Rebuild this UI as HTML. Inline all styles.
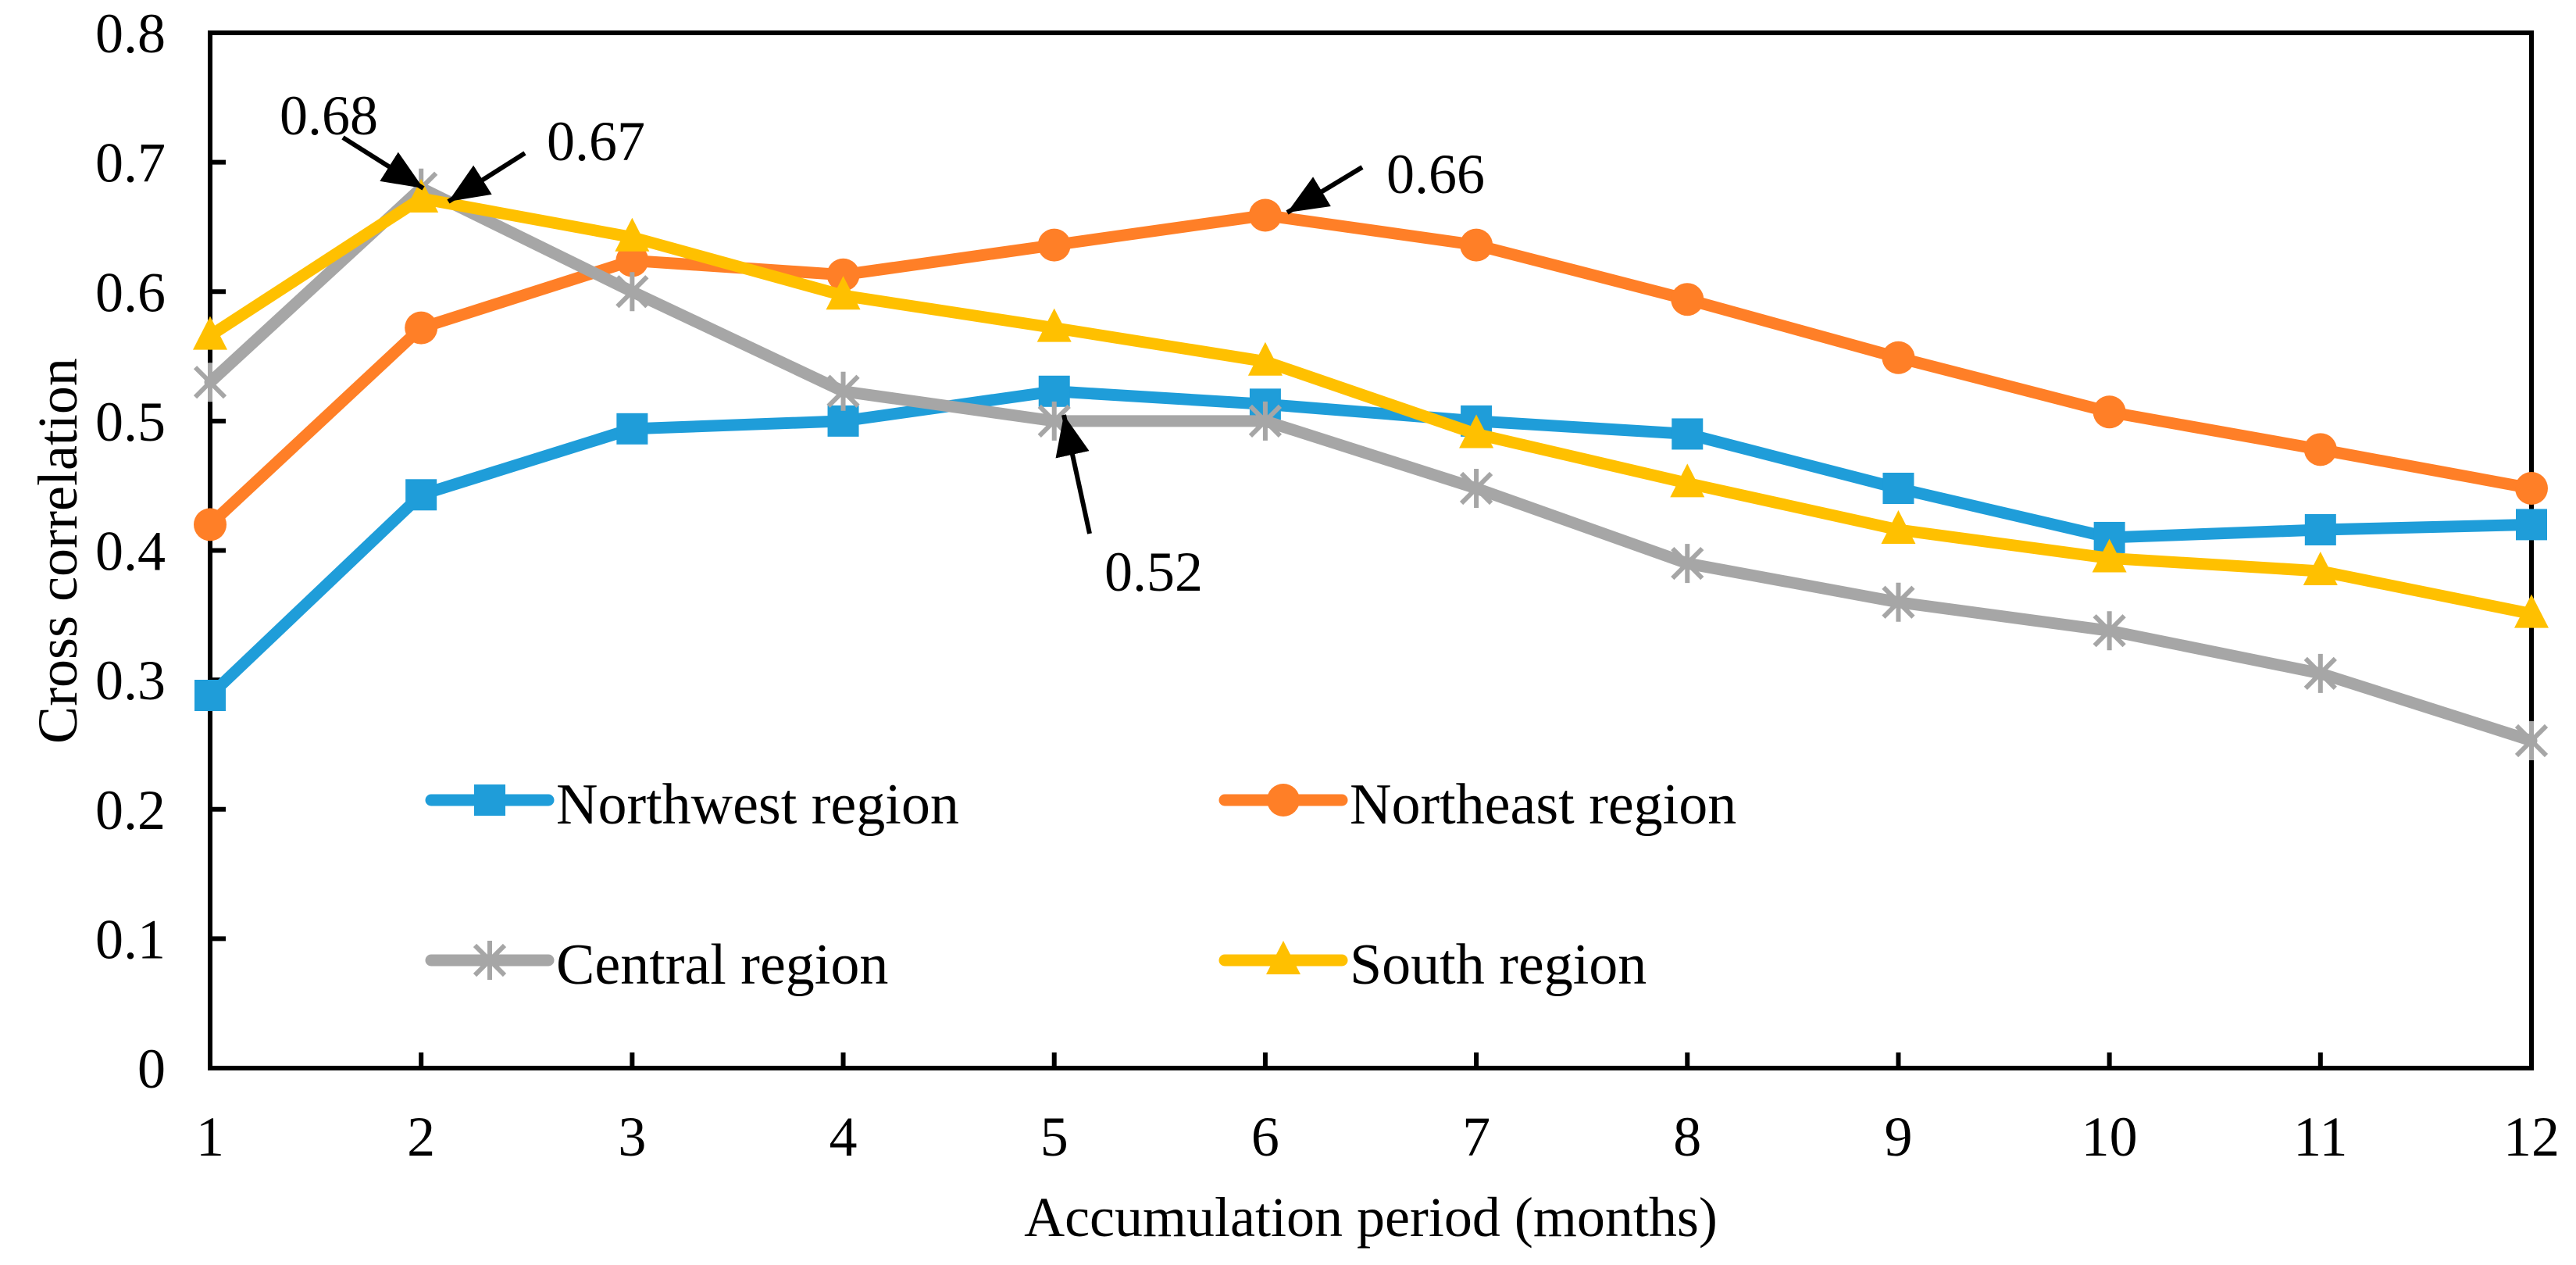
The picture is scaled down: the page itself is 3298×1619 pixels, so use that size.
<!DOCTYPE html>
<html><head><meta charset="utf-8"><style>
html,body{margin:0;padding:0;background:#fff;}
svg{display:block;font-family:"Liberation Serif","Times New Roman",serif;}
</style></head><body>
<svg id="chart" width="3298" height="1619" viewBox="0 0 3298 1619" xmlns="http://www.w3.org/2000/svg">
<defs>
<marker id="ah" markerWidth="52" markerHeight="44" refX="52" refY="22" orient="auto" markerUnits="userSpaceOnUse" viewBox="0 0 52 44"><path d="M0,0 L52,22 L0,44 z" fill="#000"/></marker>
</defs>
<g id="plot"></g>
</svg>
<script>
const categories = [1,2,3,4,5,6,7,8,9,10,11,12];
const yTicks = [0,0.1,0.2,0.3,0.4,0.5,0.6,0.7,0.8];
const yTickLabels = ["0","0.1","0.2","0.3","0.4","0.5","0.6","0.7","0.8"];
const northwest = [0.288,0.443,0.494,0.500,0.523,0.513,0.500,0.490,0.448,0.410,0.416,0.420];
const northeast = [0.420,0.572,0.624,0.613,0.636,0.659,0.636,0.594,0.549,0.507,0.478,0.448];
const central = [0.530,0.680,0.600,0.523,0.500,0.500,0.448,0.390,0.360,0.338,0.305,0.253];
const south = [0.566,0.672,0.642,0.597,0.572,0.546,0.490,0.452,0.416,0.394,0.384,0.351];

const L=269,R=3241,T=42,B=1367;
const xs = c => L + (c-1)*(R-L)/11;
const ys = v => B - v/0.8*(B-T);
const NS="http://www.w3.org/2000/svg";
const g=document.getElementById('plot');
function el(tag,attrs,parent){const e=document.createElementNS(NS,tag);for(const k in attrs)e.setAttribute(k,attrs[k]);(parent||g).appendChild(e);return e;}

let frame=el('rect',{x:L,y:T,width:R-L,height:B-T,fill:'none',stroke:'#000','stroke-width':6});



yTicks.forEach((v,i)=>{
  if(i>0&&i<yTicks.length-1){
    const t=el('line',{x1:L,x2:L+20,y1:ys(v),y2:ys(v),stroke:'#000','stroke-width':6});
    
    
  }
  const tx=el('text',{x:212,y:ys(v)+25,'text-anchor':'end','font-size':72});
  tx.textContent=yTickLabels[i];
  
  
});
categories.forEach(c=>{
  if(c>1&&c<12){
    const t=el('line',{x1:xs(c),x2:xs(c),y1:B,y2:B-20,stroke:'#000','stroke-width':6});
    
    
  }
  const tx=el('text',{x:xs(c),y:1479,'text-anchor':'middle','font-size':72});
  tx.textContent=String(c);
  
  
});
let xt=el('text',{x:1755,y:1582,'text-anchor':'middle','font-size':72});
xt.textContent='Accumulation period (months)';


let yt=el('text',{x:0,y:0,'text-anchor':'middle','font-size':72,transform:'translate(98,705) rotate(-90)'});
yt.textContent='Cross correlation';



function marker(type,x,y,color,parent){
  let m;
  if(type==='square') m=el('rect',{x:x-20,y:y-20,width:40,height:40,fill:color},parent);
  else if(type==='circle') m=el('circle',{cx:x,cy:y,r:21,fill:color},parent);
  else if(type==='triangle') m=el('path',{d:`M${x},${y-25} L${x+22},${y+18} L${x-22},${y+18} Z`,fill:color},parent);
  else { m=el('path',{d:`M${x-19},${y-19} L${x+19},${y+19} M${x+19},${y-19} L${x-19},${y+19} M${x},${y-25} L${x},${y+25}`,stroke:color,'stroke-width':6,fill:'none'},parent); }
  return m;
}
const series=[
  {name:'northwest',data:northwest,color:'#1F9DD9',m:'square'},
  {name:'northeast',data:northeast,color:'#FF7F27',m:'circle'},
  {name:'central',data:central,color:'#A6A6A6',m:'star'},
  {name:'south',data:south,color:'#FFC000',m:'triangle'}
];
series.forEach(s=>{
  const sg=el('g',{});
  
  
  const pl=el('polyline',{points:s.data.map((v,i)=>xs(categories[i])+','+ys(v)).join(' '),fill:'none',stroke:s.color,'stroke-width':15,'stroke-linejoin':'round','stroke-linecap':'round'},sg);
  
  
  s.data.forEach((v,i)=>{
    const m=marker(s.m,xs(categories[i]),ys(v),s.color,sg);
    
    
  });
});

const legend=[
  {label:'Northwest region',color:'#1F9DD9',m:'square',x:552,y:1024},
  {label:'Northeast region',color:'#FF7F27',m:'circle',x:1568,y:1024},
  {label:'Central region',color:'#A6A6A6',m:'star',x:552,y:1229},
  {label:'South region',color:'#FFC000',m:'triangle',x:1568,y:1229}
];
legend.forEach(l=>{
  const lg=el('g',{});
  
  
  el('line',{x1:l.x,x2:l.x+150,y1:l.y,y2:l.y,stroke:l.color,'stroke-width':15,'stroke-linecap':'round'},lg);
  marker(l.m,l.x+75,l.y,l.color,lg);
  const t=el('text',{x:l.x+160,y:l.y+30,'font-size':74},lg);
  t.textContent=l.label;
});

const ann=[
  {t:'0.68',tx:358,ty:172,x1:439,y1:176,x2:542,y2:241},
  {t:'0.67',tx:700,ty:205,x1:672,y1:196,x2:574,y2:258},
  {t:'0.66',tx:1775,ty:247,x1:1744,y1:214,x2:1648,y2:272},
  {t:'0.52',tx:1414,ty:756,x1:1395,y1:683,x2:1362,y2:531}
];
ann.forEach(a=>{
  const ag=el('g',{});
  
  
  el('line',{x1:a.x1,y1:a.y1,x2:a.x2,y2:a.y2,stroke:'#000','stroke-width':6,'marker-end':'url(#ah)'},ag);
  const t=el('text',{x:a.tx,y:a.ty,'font-size':72},ag);
  t.textContent=a.t;
});
</script>
</body></html>
